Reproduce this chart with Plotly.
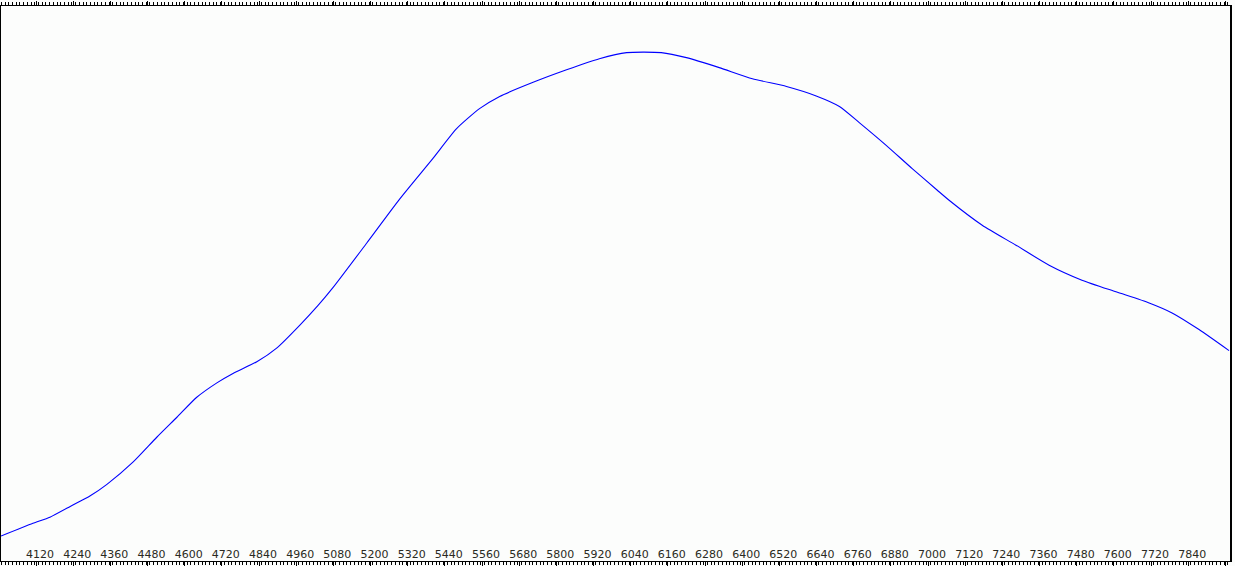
import plotly.graph_objects as go

wavelength = [4007, 4110, 4165, 4239, 4294, 4349, 4433, 4510, 4575, 4639, 4704, 4756,
              4833, 4898, 4972, 5030, 5078, 5188, 5294, 5401, 5478, 5552, 5617, 5723,
              5833, 5939, 6027, 6139, 6220, 6326, 6433, 6543, 6639, 6714, 6778, 6865,
              6949, 7030, 7068, 7175, 7284, 7391, 7497, 7607, 7714, 7788, 7875, 7972]
intensity = [0.045, 0.068, 0.079, 0.101, 0.117, 0.138, 0.178, 0.223, 0.259, 0.295, 0.321, 0.338,
             0.359, 0.384, 0.425, 0.460, 0.492, 0.573, 0.652, 0.725, 0.779, 0.815, 0.837, 0.862,
             0.885, 0.905, 0.916, 0.916, 0.907, 0.889, 0.869, 0.855, 0.838, 0.819, 0.790, 0.749,
             0.707, 0.668, 0.650, 0.605, 0.569, 0.533, 0.506, 0.485, 0.465, 0.447, 0.417, 0.379]

x_range = [4007, 7975]
y_range = [0, 1]
tick_start = 4000
tick_step = 120

fig = go.Figure()
fig.add_trace(go.Scatter(
    x=wavelength, y=intensity, mode="lines",
    line=dict(color="#0000ff", width=1.1, shape="spline", smoothing=0.6),
    hoverinfo="x+y", showlegend=False,
))

fig.update_layout(
    width=1235, height=566,
    margin=dict(l=1, r=5, t=5, b=4, pad=0),
    paper_bgcolor="#fcfdfc", plot_bgcolor="#fcfdfc",
    showlegend=False,
    xaxis=dict(
        range=x_range, tick0=tick_start, dtick=tick_step,
        showgrid=False, zeroline=False,
        showline=True, linecolor="#000000", linewidth=1, mirror="ticks",
        ticks="outside", ticklen=4, tickwidth=1, tickcolor="#000000",
        ticklabelposition="inside", ticklabeloverflow="hide past domain",
        ticklabelshift=4,
        tickfont=dict(family="DejaVu Sans", size=11, color="#2a2a22"),
        minor=dict(dtick=12, ticks="outside", ticklen=3, tickwidth=1, tickcolor="#000000"),
    ),
    yaxis=dict(
        range=y_range, showgrid=False, zeroline=False, showticklabels=False,
        showline=True, linecolor="#000000", linewidth=2, mirror=True, ticks="",
    ),
)

fig.write_html(
    "out.html",
    config={"displayModeBar": False},
    post_script="document.body.style.margin='0px';document.body.style.overflow='hidden';",
)
